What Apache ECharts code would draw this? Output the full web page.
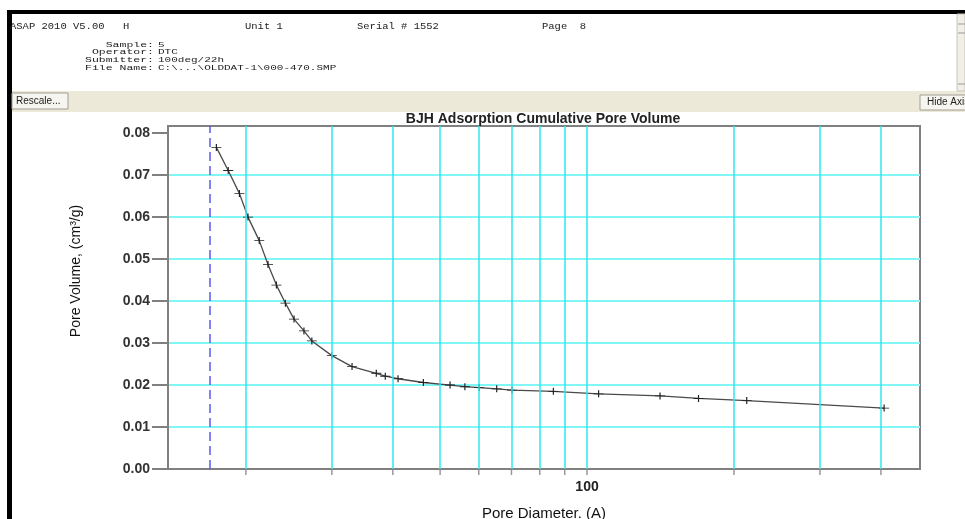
<!DOCTYPE html>
<html><head><meta charset="utf-8">
<script src="https://cdn.jsdelivr.net/npm/echarts@6/dist/echarts.min.js"></script>
<style>html,body{margin:0;padding:0;background:#fff}#c{width:965px;height:519px}</style>
</head><body><div id="c"></div>
<script>
// ---- data ----
const poreDiameter = [17.4,18.4,19.4,20.2,21.3,22.2,23.1,24.1,25.1,26.3,27.3,30.0,33.0,37.0,38.6,41.0,46.2,52.4,56.2,60.1,65.3,70.2,85.3,105.6,141.1,169.2,212.4,406.1];
const poreVolume   = [0.0766,0.0711,0.0656,0.0600,0.0544,0.0487,0.0438,0.0395,0.0357,0.0329,0.0305,0.0270,0.0244,0.0228,0.0221,0.0215,0.0206,0.0200,0.0196,0.0194,0.0191,0.0188,0.0185,0.0179,0.0174,0.0168,0.0163,0.0145];
const gridDiameters = [20,30,40,50,60,70,80,90,100,200,300,400];
const xTickLabels = ['100'];
const yTickValues = [0,0.01,0.02,0.03,0.04,0.05,0.06,0.07,0.08];
const dashedDiameter = 16.9;
const chartTitle = 'BJH Adsorption Cumulative Pore Volume';
const xName = 'Pore Diameter. (A)';
const yName = 'Pore Volume, (cm\u00b3/g)';
const headerTop = [['ASAP 2010 V5.00',10],['H',123],['Unit 1',245],['Serial # 1552',357],['Page  8',542]];
const headerLabels = ['Sample:','Operator:','Submitter:','File Name:'];
const headerValues = ['5','DTC','100deg/22h','C:\\...\\OLDDAT-1\\000-470.SMP'];

const mono = {fontFamily:'Liberation Mono', fontSize:10, fill:'#222'};
const graphics = [];
graphics.push({type:'rect', shape:{x:7,y:10,width:958,height:4}, style:{fill:'#000'}, silent:true});
graphics.push({type:'rect', shape:{x:7,y:10,width:5,height:509}, style:{fill:'#000'}, silent:true});
graphics.push({type:'rect', shape:{x:12,y:91,width:953,height:21}, style:{fill:'#ECE9D8'}, silent:true});
// scrollbar
graphics.push({type:'rect', shape:{x:957,y:14,width:8,height:77}, style:{fill:'#F2F0E6', stroke:'#C8C6BC', lineWidth:1}, silent:true});
graphics.push({type:'line', shape:{x1:958,y1:24,x2:965,y2:24}, style:{stroke:'#999', lineWidth:1}, silent:true});
graphics.push({type:'line', shape:{x1:958,y1:33,x2:965,y2:33}, style:{stroke:'#999', lineWidth:1}, silent:true});
graphics.push({type:'line', shape:{x1:958,y1:84,x2:965,y2:84}, style:{stroke:'#999', lineWidth:1}, silent:true});
// buttons
graphics.push({type:'rect', shape:{x:12,y:93,width:56,height:16}, style:{fill:'#F6F5F0', stroke:'#A09E94', lineWidth:1}, silent:true});
graphics.push({type:'text', x:16, y:101, style:{text:'Rescale...', fontFamily:'Liberation Sans', fontSize:10, fill:'#222', verticalAlign:'middle'}, silent:true});
graphics.push({type:'rect', shape:{x:920,y:95,width:50,height:15}, style:{fill:'#F6F5F0', stroke:'#A09E94', lineWidth:1}, silent:true});
graphics.push({type:'text', x:927, y:102.5, style:{text:'Hide Axis', fontFamily:'Liberation Sans', fontSize:10, fill:'#222', verticalAlign:'middle'}, silent:true});
headerTop.forEach(([t,x]) => graphics.push({type:'text', x:x, y:27, scaleX:1.05, scaleY:0.85, style:Object.assign({text:t, verticalAlign:'middle'}, mono), silent:true}));
const rowY = [44.5,52,59.5,67.5];
headerLabels.forEach((t,i) => graphics.push({type:'text', x:154, y:rowY[i], scaleX:1.15, scaleY:0.8, style:Object.assign({text:t, align:'right', verticalAlign:'middle'}, mono), silent:true}));
headerValues.forEach((t,i) => graphics.push({type:'text', x:158, y:rowY[i], scaleX:1.1, scaleY:0.8, style:Object.assign({text:t, verticalAlign:'middle'}, mono), silent:true}));
// y axis title (placed like the reference, above the plot's middle)
graphics.push({type:'text', x:76, y:271, rotation:Math.PI/2, style:{text:yName, fontFamily:'Liberation Sans', fontSize:14, fill:'#111', align:'center', verticalAlign:'middle'}, silent:true});

const chart = echarts.init(document.getElementById('c'), null, {renderer:'canvas'});
chart.setOption({
  backgroundColor:'#fff',
  animation:false,
  title:{text:chartTitle, left:543, top:112, textAlign:'center', padding:0,
    textStyle:{fontFamily:'Liberation Sans', fontSize:14, fontWeight:'bold', color:'#222'}},
  grid:{left:168, right:45, top:126, bottom:50, show:true, borderColor:'#808080', borderWidth:2, backgroundColor:'transparent', containLabel:false, outerBoundsMode:'none'},
  xAxis:{type:'log', logBase:10, min:13.85, max:481,
    axisLine:{show:true, onZero:false, lineStyle:{color:'#808080', width:2}},
    axisTick:{show:false},
    splitLine:{show:false},
    axisLabel:{showMinLabel:false, showMaxLabel:false, margin:11, color:'#222', fontFamily:'Liberation Sans', fontSize:14, fontWeight:'bold',
      formatter:v => { const h = xTickLabels.find(l => Math.abs(Number(l)-v) < 1e-6*v); return h || ''; }},
    name:xName, nameLocation:'middle', nameGap:37,
    nameTextStyle:{fontFamily:'Liberation Sans', fontSize:15, color:'#111'}},
  yAxis:{type:'value', min:0, max:0.0817, interval:0.01,
    axisLine:{show:true, lineStyle:{color:'#808080', width:2}},
    axisTick:{show:true, length:16, customValues:yTickValues, lineStyle:{color:'#808080', width:2}},
    splitLine:{show:true, showMinLine:false, showMaxLine:false, lineStyle:{color:'#80F6F6', width:2}},
    axisLabel:{showMaxLabel:false, margin:18, color:'#333', fontFamily:'Liberation Sans', fontSize:14, fontWeight:'bold',
      formatter:v => v.toFixed(2)}},
  graphic:graphics,
  series:[
    {type:'scatter', z:1, silent:true, clip:false,
      data:gridDiameters.map(d => [d,0]),
      symbol:'rect', symbolSize:[1.5,5], symbolOffset:[0,3.5],
      itemStyle:{color:'#808080'},
      markLine:{silent:true, symbol:'none', label:{show:false}, animation:false,
        lineStyle:{color:'#2BE9EE', width:1.5, type:'solid'},
        data:gridDiameters.map(d => ({xAxis:d})).concat([{xAxis:dashedDiameter, lineStyle:{color:'#5A5AF5', width:1.5, type:[9,5]}}])}},
    {type:'line', z:3, silent:true,
      data:poreDiameter.map((d,i) => [d, poreVolume[i]]),
      lineStyle:{color:'#4a4a4a', width:1.3},
      symbol:'path://M0,5L10,5M5,0L5,10', symbolSize:[10,7],
      itemStyle:{color:'#222', borderColor:'#222', borderWidth:1}}
  ]
});
</script>
</body></html>
